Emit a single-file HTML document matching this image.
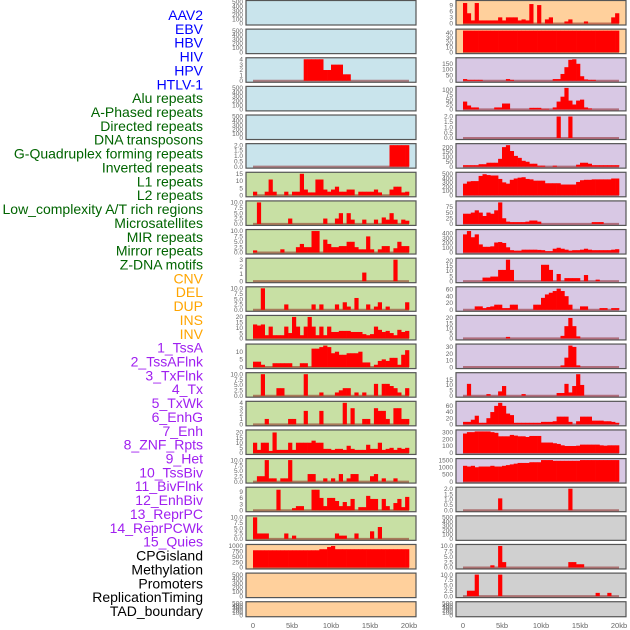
<!DOCTYPE html>
<html><head><meta charset="utf-8"><style>
body{margin:0;background:#fff;width:630px;height:630px;overflow:hidden}
svg{display:block;font-family:"Liberation Sans",sans-serif}
</style></head><body>
<svg id="chart" width="630" height="630"></svg>
<script>
const featureLabels=["AAV2","EBV","HBV","HIV","HPV","HTLV-1","Alu repeats","A-Phased repeats","Directed repeats","DNA transposons","G-Quadruplex forming repeats","Inverted repeats","L1 repeats","L2 repeats","Low_complexity A/T rich regions","Microsatellites","MIR repeats","Mirror repeats","Z-DNA motifs","CNV","DEL","DUP","INS","INV","1_TssA","2_TssAFlnk","3_TxFlnk","4_Tx","5_TxWk","6_EnhG","7_Enh","8_ZNF_Rpts","9_Het","10_TssBiv","11_BivFlnk","12_EnhBiv","13_ReprPC","14_ReprPCWk","15_Quies","CPGisland","Methylation","Promoters","ReplicationTiming","TAD_boundary"];
const labelGroups=[6,13,5,15,5];
const groupColors=["#0000ff","#006400","#ffa500","#a020f0","#000000"];
const xTickLabels=["0","5kb","10kb","15kb","20kb"];
const xTickValues=[0,5,10,15,20];
function sp(o){const a=new Array(40).fill(0);for(const k in o)a[+k]=o[k];return a;}
const t500=["0","100","200","300","400","500"];
const t10=["0.0","2.5","5.0","7.5","10.0"];
const t2=["0.0","0.5","1.0","1.5","2.0"];
// left column values (40 bins of 0.5kb)
const vL2=sp({13:4,14:4,15:4,16:4,17:4,18:2,19:2,20:3,21:3,22:3,23:1.2,24:1.2});
const vL5=sp({35:2,36:2,37:2,38:2,39:2});
const vL6=[2.5,0,0,2.5,11,2.5,0,0,2.5,0,2.5,2.5,15,4,2,2,11,11,4,2.5,4,6,2.5,2.5,4,4,0,2.5,2.5,2.5,2.5,4,2,0,0,4,6,6,2,2.5];
const vL7=[0,10,0,0,0,0,0,0,0,2.5,0,0,0,0,0,0,0,0,2.5,0,0,2.5,5,0,5,2,0,0,2,0,0,2,0,3,2,5,2,0,2,1.5];
const vL8=[1,0,0,0,0,0,0,1.5,0,0,0,2.5,4,2.5,2.5,10,10,0,6,4,2.5,2.5,3,3,5,5,2.5,1.5,1.5,7.5,1.5,0,1.5,3,3,0,2,5,3,3];
const vL9=sp({28:1.2,36:3});
const vL10=sp({2:10,8:2.5,15:2.5,17:2.5,21:2.5,23:3.5,24:1.5,26:5.5,29:2.5,31:1.5,32:3.5,34:1.5,39:3.5});
const vL11=[13,12,13,3,11,3,3,3,11,5,20,11,3,11,20,11,3,11,3,11,6,6,7,7,7,6,6,6,4,3,4,11,8,6,7,5,3,8,6,7];
const vL12=[3.5,3.5,1.5,0,0,2.5,2.5,2.5,2.5,2.5,0,0,2.5,2.5,0,12,12,13,14,13,9,10,8,8,9,9,9,10,3,3,0,1.5,4,5,4,6,6,1.5,8,11];
const vL13=[0,0,10,0,0,0,3.5,3.5,0,0,0,0,0,10,0,0,0,1.5,0,0,0,1.5,2.5,3.5,3.5,0,1.5,0,1.5,0,0,5.5,0,5.5,5.5,4.5,3.5,1.5,0,3.5];
const vL14=[0,0,0,1,0,0,0,0,0,1,1,0,0,2.5,0,0,0,2.5,0,0,0,0,0,4,0,3,0,0,1,1,0,3,2.5,2.5,1,0,3,3,1,1];
const vL15=[10,3,10,10,2,20,3,3,3,10,3,10,10,10,10,12,10,10,4,4,3,4,4,3,7,4,3,3,3,8,4,4,10,3,4,5,3,5,4,5];
const vL16=[0,2.5,2.5,10,1.5,1.5,0,1.5,1.5,10,0,0,0,0,3.5,3.5,0,0,1.5,0,1.5,0,3.5,0,1.5,3.5,3.5,0,0,0,2.5,3.5,0,1.5,0,0,1.5,0,0,0];
const vL17=[0,0,0,0,0,0,10,0,0,0,1,2,2,0,0,10,10,6,2,6,6,4.5,2,4,2,5.5,0,1.5,1.5,7,5.5,5.5,0,5.5,2,0,3.5,5.5,1.5,6.5];
const vL18=sp({0:10,1:2.5,2:2.5,3:2.5,8:2.5,10:1.5,21:2.5,22:1.5,23:1.5,26:2.5,30:3.5,32:5.5});
const vL19=[800,800,800,800,800,800,800,800,800,800,800,800,800,800,800,800,800,850,850,950,1000,850,850,850,850,850,850,850,850,850,850,850,850,850,850,850,850,850,850,850];
// right column values
const vR0=[10,5,1.5,10,1.5,1.5,1.5,1.5,1.5,3,1.5,3,3,3,1.5,2,1.5,9.5,0,9,0,2,3,0,0,0,1,2,0,0,0,1,0,0,0,0,0,0,3,5];
const vR1=new Array(40).fill(45);
const vR2=[15,8,8,8,8,0,0,0,0,0,0,15,8,0,0,0,0,0,0,0,0,0,0,15,15,60,120,185,190,150,40,12,8,8,0,0,0,0,0,0];
const vR3=[40,20,10,10,0,0,0,0,10,10,30,30,0,0,0,0,0,8,8,8,3,3,0,10,40,65,110,45,25,45,50,10,5,0,0,0,0,0,0,0];
const vR4=sp({24:2,27:2});
const vR5=[15,15,15,15,25,25,40,40,40,80,200,220,160,110,90,60,50,30,30,10,10,0,0,10,0,0,0,0,0,20,40,40,30,15,15,15,15,15,15,15];
const vR6=[270,320,330,330,450,490,470,460,460,380,300,270,360,390,410,420,380,370,340,340,340,280,280,280,280,250,250,250,250,310,350,360,360,370,370,370,370,370,390,390];
const vR7=[45,45,50,60,50,35,50,45,60,95,25,10,8,8,8,8,10,15,15,10,0,0,0,0,0,0,0,0,0,0,0,0,0,8,8,8,0,0,0,0];
const vR8=[380,450,320,380,170,120,120,130,210,220,200,110,50,40,40,60,60,60,60,55,50,30,30,80,100,80,60,40,50,50,60,80,60,50,50,50,50,50,60,70];
const vR9=[0,0,0,0,0,3.5,3.5,4.5,4.5,11,11,21,11,0,0,0,0,0,0,0,16,16,11,0,7,0,3,3,3,3,0,6,0,0,1.5,0,0,0,0,0];
const vR10=[0,0,0,10,10,5,8,10,15,15,5,5,15,15,0,0,0,0,15,15,35,45,50,55,62,55,40,15,0,0,10,10,0,0,0,5,5,0,5,5];
const vR11=sp({11:1.5,25:2.5,26:12,27:20,28:12,29:2});
const vR12=sp({25:2.5,26:14,27:32,28:30,29:2.5});
const vR13=[0,11,0,0,0,0,1.5,0,0,4,9,0,0,0,0,1.5,0,0,0,0,0,0,0,0,2.5,2.5,11,3,9,20,10,0,0,0,0,0,0,0,0,0];
const vR14=[8,8,15,28,5,5,20,40,60,70,60,35,30,5,5,5,5,5,5,5,8,8,8,10,25,25,25,8,0,10,25,25,25,12,12,12,10,10,8,5];
const vR15=[280,300,300,310,310,310,310,300,290,240,240,240,260,250,240,240,230,245,245,245,150,150,150,140,130,110,100,100,100,105,120,120,120,120,120,110,105,110,110,110];
const vR16=[1100,1050,1100,1000,1050,1050,1050,1100,1050,1050,1100,1150,1200,1250,1300,1300,1300,1350,1350,1350,1500,1500,1500,1450,1450,1450,1450,1450,1450,1450,1500,1500,1500,1500,1500,1500,1500,1500,1500,1500];
const vR17=sp({9:1.1,27:2});
const vR19=sp({7:1,9:10,10:2.5,27:2.5,28:2.5,29:1.5,30:1.5});
const vR20=sp({1:2.5,2:2.5,3:10,9:10,34:1.5,37:1.5});

const B="#c9e4ec",G="#c8e0a4",O="#ffd09c",P="#d8c8e4",Y="#d0d0d0";
const leftPanels=[
[B,500,t500,null],[B,500,t500,null],[B,4,["0","1","2","3","4"],vL2],[B,500,t500,null],[B,500,t500,null],[B,2,t2,vL5],
[G,15,["0","5","10","15"],vL6],[G,10,t10,vL7],[G,10,t10,vL8],[G,3,["0","1","2","3"],vL9],[G,10,t10,vL10],
[G,20,["0","5","10","15","20"],vL11],[G,14,["0","5","10"],vL12],[G,10,t10,vL13],[G,4,["0","1","2","3","4"],vL14],
[G,21,["0","5","10","15","20"],vL15],[G,10,t10,vL16],[G,10.5,["0","3","6","9"],vL17],[G,10,t10,vL18],
[O,1000,["0","250","500","750","1000"],vL19],[O,500,t500,null],[O,500,t500,null]];
const rightPanels=[
[O,10.5,["0","3","6","9"],vR0],[O,45,["0","10","20","30","40"],vR1],[P,190,["0","50","100","150"],vR2],
[P,110,["0","25","50","75","100"],vR3],[P,2,t2,vR4],[P,220,["0","50","100","150","200"],vR5],
[P,500,t500,vR6],[P,95,["0","25","50","75"],vR7],[P,450,["0","100","200","300","400"],vR8],
[P,21,["0","5","10","15","20"],vR9],[P,63,["0","20","40","60"],vR10],[P,21,["0","5","10","15","20"],vR11],
[P,32,["0","10","20","30"],vR12],[P,20,["0","5","10","15"],vR13],[P,70,["0","20","40","60"],vR14],
[P,310,["0","100","200","300"],vR15],[P,1500,["0","500","1000","1500"],vR16],[Y,2,t2,vR17],
[Y,500,t500,null],[Y,10,t10,vR19],[Y,10,t10,vR20],[Y,500,t500,null]];

const NS="http://www.w3.org/2000/svg";
const svg=document.getElementById('chart');
function mk(tag,attrs,parent){const e=document.createElementNS(NS,tag);for(const k in attrs)e.setAttribute(k,attrs[k]);(parent||svg).appendChild(e);return e;}

// labels
let gi=0,cnt=0;
featureLabels.forEach((lab,i)=>{
  while(cnt>=labelGroups[gi]){cnt-=labelGroups[gi];gi++;}
  cnt++;
  const t=mk('text',{x:203,y:15+i*13.86+5,'text-anchor':'end','font-size':14,fill:groupColors[gi]});
  t.textContent=lab;
  
  
});

function drawCol(panels,px0,px1,dx0,colName){
  const xs=kb=>dx0+kb*7.8;
  panels.forEach((p,r)=>{
    const top=0.5+r*28.63;
    const h=(r===21)?15:24.5;
    const g=mk('g',{});
    
    
    const rect=mk('rect',{x:px0,y:top,width:px1-px0,height:h,fill:p[0],stroke:'#555',"stroke-width":1.2},g);
    
    
    const max=p[1];
    const ys=v=>top+h-1.5-v/max*(h-3);
    p[2].forEach(lbl=>{
      const v=parseFloat(lbl);
      const tt=mk('text',{x:px0-3,y:ys(v)+2.2,'text-anchor':'end','font-size':6.5,fill:'#666'},g);
      tt.textContent=lbl;
      
      
    });
    if(p[3]){
      const bl=mk('line',{x1:xs(0),x2:xs(20),y1:ys(0),y2:ys(0),stroke:'rgba(128,0,0,0.45)','stroke-width':2},g);
      
      
      p[3].forEach((v,i)=>{
        if(!v)return;
        const x=xs(i*0.5),w=xs((i+1)*0.5)-x;
        const b=mk('rect',{x:x,y:ys(v),width:w+0.3,height:ys(0)-ys(v),fill:'#ff0000'},g);
        
        
      });
    }
  });
  xTickValues.forEach((kb,i)=>{
    const t=mk('text',{x:xs(kb),y:628,'text-anchor':'middle','font-size':7.5,fill:'#666'});
    t.textContent=xTickLabels[i];
    
    
  });
}
drawCol(leftPanels,246,416,253,'left');
drawCol(rightPanels,456,626,463,'right');
</script>
</body></html>
